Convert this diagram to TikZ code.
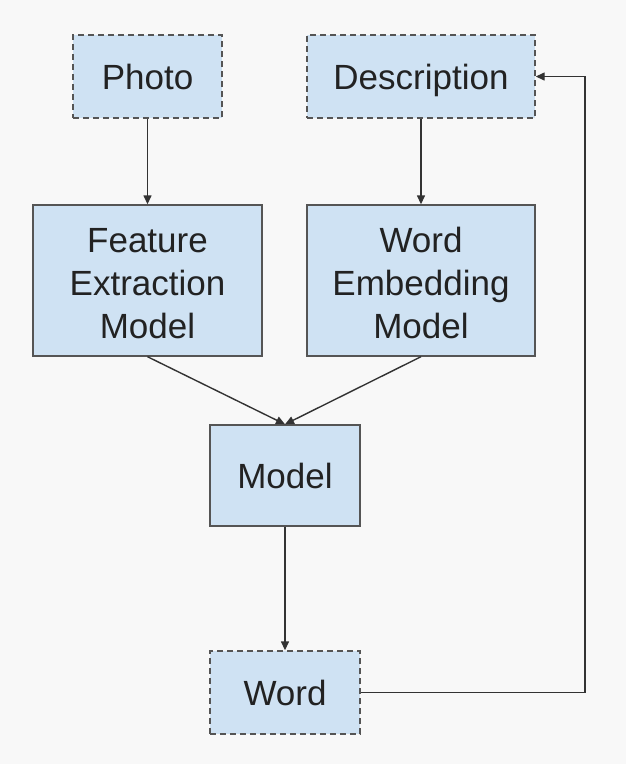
\documentclass[tikz,border=0pt]{standalone}
\usepackage{fontspec}
\setmainfont{Liberation Sans}
\usetikzlibrary{arrows.meta}
\definecolor{bg}{HTML}{F8F8F8}
\definecolor{boxfill}{HTML}{CFE2F3}
\definecolor{boxline}{HTML}{555555}
\definecolor{txt}{HTML}{222222}
\definecolor{conn}{HTML}{333333}
\newcommand{\threelines}[3]{\raisebox{0pt}[\dimexpr\height+12pt\relax][\depth]{\begin{tabular}{@{}c@{}}#1\\#2\\#3\end{tabular}}}
\begin{document}
\begin{tikzpicture}[x=1pt,y=-1pt,
  box/.style={draw=boxline, fill=boxfill, line width=1.4pt, inner sep=0pt, align=center,
    text=txt, font=\fontsize{35}{43}\selectfont},
  oneline/.style={text height=25pt, text depth=0pt},
  dbox/.style={box, oneline, dash pattern=on 6pt off 4pt},
  conn/.style={draw=conn, line width=1.4pt, -{Triangle[length=9pt,width=8pt]}}]
\fill[bg] (0,0) rectangle (626,764);
\useasboundingbox (0,0) rectangle (626,764);
\node[dbox, minimum width=149pt, minimum height=83pt] (photo) at (147.5,76.5) {Photo};
\node[dbox, minimum width=228pt, minimum height=83pt] (desc) at (421,76.5) {Description};
\node[box, minimum width=229pt, minimum height=151pt] (fem) at (147.5,280.5) {\threelines{Feature}{Extraction}{Model}};
\node[box, minimum width=228pt, minimum height=151pt] (wem) at (421,280.5) {\threelines{Word}{Embedding}{Model}};
\node[box, oneline, minimum width=150pt, minimum height=101pt] (model) at (285,475.5) {Model};
\node[dbox, minimum width=150pt, minimum height=83pt] (word) at (285,692.5) {Word};
\coordinate (fb) at (585,692.5);
\draw[conn] (photo) -- (fem);
\draw[conn] (desc) -- (wem);
\draw[conn] (fem.south) -- (model.north);
\draw[conn] (wem.south) -- (model.north);
\draw[conn] (model) -- (word);
\draw[conn] (word.east) -- (fb) |- (desc.east);
\end{tikzpicture}
\end{document}
